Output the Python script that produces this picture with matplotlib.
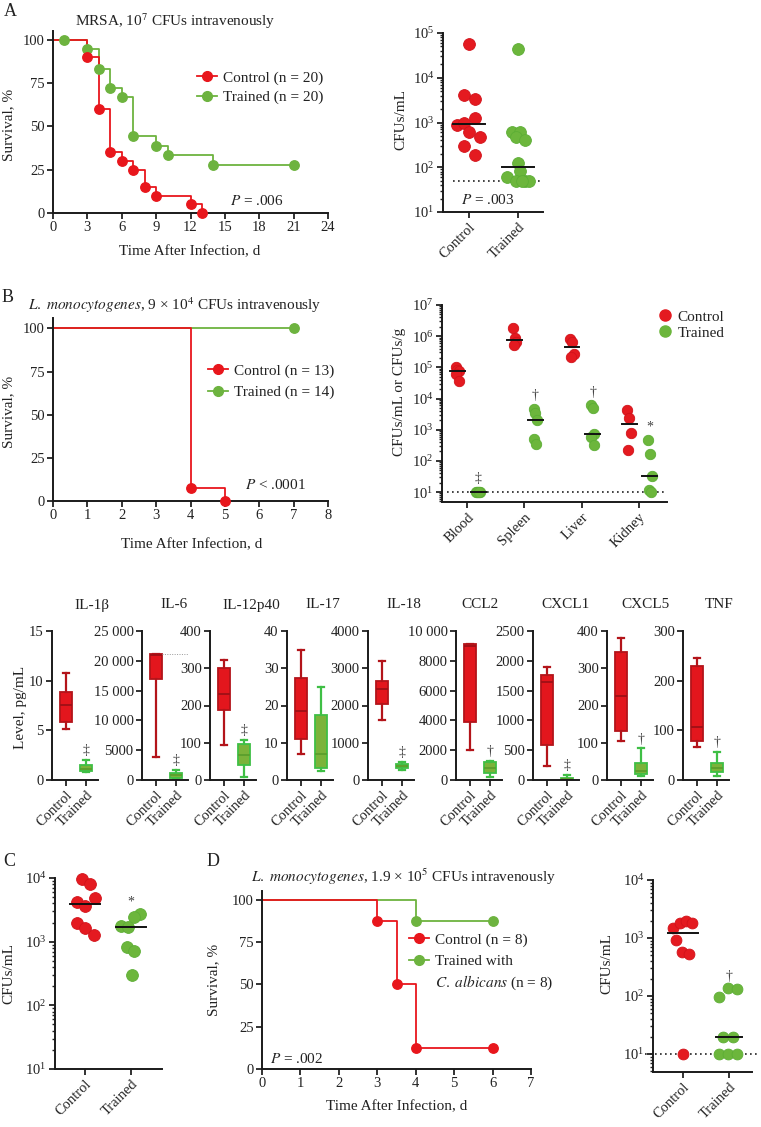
import numpy as np
import matplotlib
matplotlib.use('Agg')
import matplotlib.pyplot as plt
from matplotlib.lines import Line2D
from matplotlib.ticker import LogLocator, NullFormatter, FuncFormatter

plt.rcParams['font.family'] = ['Liberation Serif', 'DejaVu Serif']
plt.rcParams['mathtext.fontset'] = 'stix'
plt.rcParams['text.color'] = '#222222'
plt.rcParams['xtick.color'] = '#222222'
plt.rcParams['ytick.color'] = '#222222'

# ---------------- data ----------------
# A: MRSA survival (Kaplan-Meier)
a_ctrl_t = [0, 3, 4, 5, 6, 7, 8, 9, 12, 13]
a_ctrl_s = [100, 90, 60, 35, 30, 25, 15, 10, 5, 0]
a_trn_t = [0, 1, 3, 4, 5, 6, 7, 9, 10, 14, 21]
a_trn_s = [100, 100, 94.4, 83.3, 72.2, 66.7, 44.4, 38.9, 33.3, 27.8, 27.8]
# A: blood CFUs
a_cfu_ctrl = [56000, 4100, 3300, 1270, 900, 970, 605, 480, 305, 185]
a_cfu_trn = [44000, 605, 615, 470, 410, 125, 81, 61, 50, 50, 50, 50]
a_limit = 50

# B: L. monocytogenes survival
b_ctrl_t = [0, 4, 5]
b_ctrl_s = [100, 7.7, 0]
b_trn_t = [0, 7]
b_trn_s = [100, 100]
# B: organ CFUs
organs = ['Blood', 'Spleen', 'Liver', 'Kidney']
blood_ctrl = [1.0e5, 8.5e4, 7.8e4, 6.0e4, 3.7e4]
blood_trn = [10, 10, 10, 10, 10]
spleen_ctrl = [1.8e6, 8.9e5, 6.6e5, 5.2e5]
spleen_trn = [4.5e3, 3.5e3, 2.0e3, 5.0e2, 3.5e2]
liver_ctrl = [8.2e5, 6.6e5, 2.6e5, 2.2e5]
liver_trn = [6.0e3, 5.0e3, 7.4e2, 5.9e2, 3.3e2]
kidney_ctrl = [4.4e3, 2.3e3, 8.0e2, 2.3e2]
kidney_trn = [4.6e2, 1.7e2, 32, 12, 10]
b_limit = 10
organ_sig = ['‡', '†', '†', '*']

# cytokines: [whisker low, q1, median, q3, whisker high]
cyto_names = ['IL-1β', 'IL-6', 'IL-12p40', 'IL-17', 'IL-18', 'CCL2', 'CXCL1', 'CXCL5', 'TNF']
il1b_ctrl = [5.1, 5.8, 7.6, 8.9, 10.8]
il1b_trn = [0.8, 0.9, 1.1, 1.5, 2.0]
il6_ctrl = [3800, 17000, 21000, 21200, 21200]
il6_trn = [100, 400, 800, 1200, 1700]
il12_ctrl = [95, 187, 232, 300, 322]
il12_trn = [8, 40, 67, 97, 108]
il17_ctrl = [7, 11, 18.5, 27.3, 35]
il17_trn = [2.3, 3.3, 7, 17.5, 25]
il18_ctrl = [1600, 2050, 2450, 2650, 3200]
il18_trn = [260, 320, 380, 440, 480]
ccl2_ctrl = [2000, 3900, 9000, 9100, 9100]
ccl2_trn = [200, 500, 800, 1200, 1300]
cxcl1_ctrl = [230, 580, 1640, 1770, 1900]
cxcl1_trn = [0, 10, 20, 40, 80]
cxcl5_ctrl = [105, 132, 225, 343, 380]
cxcl5_trn = [10, 15, 25, 45, 85]
tnf_ctrl = [67, 78, 106, 230, 245]
tnf_trn = [8, 17, 25, 35, 57]
cyto_ctrl = [il1b_ctrl, il6_ctrl, il12_ctrl, il17_ctrl, il18_ctrl, ccl2_ctrl, cxcl1_ctrl, cxcl5_ctrl, tnf_ctrl]
cyto_trn = [il1b_trn, il6_trn, il12_trn, il17_trn, il18_trn, ccl2_trn, cxcl1_trn, cxcl5_trn, tnf_trn]
cyto_top = [15, 25000, 400, 40, 4000, 10000, 2500, 400, 300]
cyto_step = [5, 5000, 100, 10, 1000, 2000, 500, 100, 100]
cyto_sig = ['‡', '‡', '‡', '', '‡', '†', '‡', '†', '†']
il6_limit = 21200

# C: CFUs
c_ctrl = [9.5e3, 8.1e3, 4.9e3, 4.2e3, 3.6e3, 2.0e3, 1.65e3, 1.25e3]
c_trn = [2.75e3, 2.4e3, 1.75e3, 1.7e3, 8.1e2, 7.2e2, 3.0e2]

# D: survival after C. albicans training
d_ctrl_t = [0, 3, 3.5, 4, 6]
d_ctrl_s = [100, 87.5, 50, 12.5, 12.5]
d_trn_t = [0, 4, 6]
d_trn_s = [100, 87.5, 87.5]
# D: CFUs
d_cfu_ctrl = [1.5e3, 1.8e3, 2.0e3, 1.8e3, 925, 575, 520, 10]
d_cfu_trn = [98, 137, 130, 20, 20, 10, 10, 10]
d_limit = 10

# horizontal jitter of the dots (style only)
a_ctrl_dx = [0, -0.11, 0.115, 0.115, -0.24, -0.11, 0, 0.22, -0.11, 0.115]
a_trn_dx = [0.01, -0.12, 0.05, -0.05, 0.14, 0.01, 0.05, -0.22, -0.05, 0.14, 0.23, 0.09]
b_dx = [-0.03, 0.0, 0.03, -0.02, 0.02]
c_ctrl_dx = [-0.07, 0.11, 0.22, -0.18, 0, -0.18, 0, 0.2]
c_trn_dx = [0.2, 0.06, -0.22, -0.07, -0.09, 0.07, 0.01]
d_ctrl_dx = [-0.22, -0.07, 0.06, 0.2, -0.145, -0.015, 0.13, 0]
d_trn_dx = [-0.21, -0.015, 0.18, -0.12, 0.08, -0.21, -0.015, 0.18]

RED = '#e41a20'
RED_EDGE = '#d2121a'
GREEN = '#6cb63c'
GREEN_EDGE = '#5cae35'
RED_L = '#e8161c'
GREEN_L = '#6db33f'
SIG = '#444444'

W, H = 761, 1127
fig = plt.figure(figsize=(W / 100, H / 100), dpi=100)
fig.patch.set_facecolor('white')


def add_ax(l, t, r, b):
	ax = fig.add_axes([l / W, 1 - b / H, (r - l) / W, (b - t) / H])
	for s in ('top', 'right'):
		ax.spines[s].set_visible(False)
	for s in ('left', 'bottom'):
		ax.spines[s].set_linewidth(1.4)
		ax.spines[s].set_color('#1a1a1a')
	ax.tick_params(which='major', direction='out', length=4, width=1.3, labelsize=10.5, pad=2)
	ax.tick_params(which='minor', direction='out', length=2.2, width=1.0)
	ax.set_facecolor('none')
	return ax


def ftext(x, y, s, **kw):
	kw.setdefault('ha', 'center')
	kw.setdefault('va', 'center')
	kw.setdefault('fontsize', 11)
	fig.text(x / W, 1 - y / H, s, **kw)


def km(ax, t, s, color):
	ax.step(t, s, where='post', color=color, lw=1.3, zorder=2, clip_on=False)
	ax.plot(t[1:], s[1:], 'o', color=color, ms=6.8, zorder=3, clip_on=False)


def km_legend(ax, labels, x, y, spacing):
	hs = [Line2D([], [], color=RED_L, marker='o', ms=7, lw=1.3),
		  Line2D([], [], color=GREEN_L, marker='o', ms=7, lw=1.3)]
	ax.legend(hs, labels, loc='upper left', bbox_to_anchor=(x, y), frameon=False, fontsize=11,
			  borderpad=0, borderaxespad=0, handlelength=1.3, handletextpad=0.4, labelspacing=spacing)


def dots(ax, x0, vals, dx, color, edge, half, ms=8.5):
	ax.plot(x0 + np.asarray(dx), vals, 'o', ms=ms, color=color, mec=edge, mew=0.6, zorder=3, clip_on=False)
	ax.plot([x0 - half, x0 + half], [np.median(vals)] * 2, color='#111111', lw=1.4, zorder=4)


def logy(ax, lo, hi):
	ax.set_yscale('log')
	ax.set_ylim(lo, hi)
	ax.yaxis.set_major_locator(LogLocator(base=10, numticks=20))
	ax.yaxis.set_minor_locator(LogLocator(base=10, subs=np.arange(2, 10), numticks=100))
	ax.yaxis.set_minor_formatter(NullFormatter())


def limit_line(ax, val, x0, x1):
	ax.plot([x0, x1], [val, val], ls=(0, (1, 2)), color='#222222', lw=1.2, zorder=1,
			transform=ax.get_yaxis_transform(), clip_on=False)


def cat_ticks(ax, pos, labels):
	ax.set_xticks(pos)
	ax.set_xticklabels(labels, rotation=45, ha='right', rotation_mode='anchor', fontsize=10.5)


def sig(ax, x, y, s, off=3):
	ax.annotate(s, (x, y), xytext=(0, off), textcoords='offset points', ha='center', va='bottom',
				fontsize=10, color=SIG, annotation_clip=False)


# ---------------- A ----------------
ftext(10, 11, 'A', fontsize=13)
ftext(175, 21, 'MRSA, 10$^{7}$ CFUs intravenously')
axA = add_ax(53, 31, 328, 213)
km(axA, a_trn_t, a_trn_s, GREEN_L)
km(axA, a_ctrl_t, a_ctrl_s, RED_L)
axA.set_xlim(0, 24)
axA.set_ylim(0, 105)
axA.set_xticks(range(0, 25, 3))
axA.set_yticks([0, 25, 50, 75, 100])
km_legend(axA, ['Control (n = 20)', 'Trained (n = 20)'], 0.524, 0.78, 0.35)
axA.text(17.8, 7, '$P$ = .006', ha='center', va='center', fontsize=11)
ftext(9, 125, 'Survival, %', rotation=90)
ftext(190, 252, 'Time After Infection, d')

axAr = add_ax(443, 33, 543, 212)
logy(axAr, 10, 1e5)
axAr.set_xlim(-0.53, 1.51)
limit_line(axAr, a_limit, 0.1, 1.0)
dots(axAr, 0, a_cfu_ctrl, a_ctrl_dx, RED, RED_EDGE, 0.33)
dots(axAr, 1, a_cfu_trn, a_trn_dx, GREEN, GREEN_EDGE, 0.33)
cat_ticks(axAr, [0, 1], ['Control', 'Trained'])
axAr.text(0.45, 0.065, '$P$ = .003', transform=axAr.transAxes, ha='center', va='center', fontsize=11)
ftext(401, 120, 'CFUs/mL', rotation=90)

# ---------------- B ----------------
ftext(8, 298, 'B', fontsize=13)
ftext(175, 305, r'$\it{L.\ monocytogenes}$, 9 × 10$^{4}$ CFUs intravenously')
axB = add_ax(53, 318, 328, 501)
km(axB, b_trn_t, b_trn_s, GREEN_L)
km(axB, b_ctrl_t, b_ctrl_s, RED_L)
axB.set_xlim(0, 8)
axB.set_ylim(0, 106)
axB.set_xticks(range(0, 9))
axB.set_yticks([0, 25, 50, 75, 100])
km_legend(axB, ['Control (n = 13)', 'Trained (n = 14)'], 0.564, 0.75, 0.5)
axB.text(6.46, 9.2, '$P$ < .0001', ha='center', va='center', fontsize=11)
ftext(9, 412, 'Survival, %', rotation=90)
ftext(192, 545, 'Time After Infection, d')

axBr = add_ax(442, 305, 667, 502)
logy(axBr, 4.8, 1e7)
axBr.set_xlim(-0.44, 3.49)
limit_line(axBr, b_limit, 0.02, 1.0)
b_ctrl = [blood_ctrl, spleen_ctrl, liver_ctrl, kidney_ctrl]
b_trn = [blood_trn, spleen_trn, liver_trn, kidney_trn]
for i in range(4):
	xc, xt = i - 0.17, i + 0.19
	dots(axBr, xc, b_ctrl[i], b_dx[:len(b_ctrl[i])], RED, RED_EDGE, 0.13, ms=7.5)
	dots(axBr, xt, b_trn[i], b_dx[:len(b_trn[i])], GREEN, GREEN_EDGE, 0.13, ms=7.5)
	sig(axBr, xt, max(b_trn[i]), organ_sig[i], off=5)
cat_ticks(axBr, range(4), organs)
hs = [Line2D([], [], color=RED, marker='o', ms=8, ls='none'),
	  Line2D([], [], color=GREEN, marker='o', ms=8, ls='none')]
axBr.legend(hs, ['Control', 'Trained'], loc='upper left', bbox_to_anchor=(0.965, 0.975), frameon=False,
			fontsize=11, borderpad=0, borderaxespad=0, handlelength=0.8, handletextpad=0.4, labelspacing=0.15)
ftext(400, 392, 'CFUs/mL or CFUs/g', rotation=90)

# ---------------- cytokines ----------------
cyto_x = [52, 142, 210, 287, 368, 456, 533, 607, 683]
cyto_title_x = [92, 174, 251, 323, 404, 480, 565, 645, 719]


def fmt_level(v, pos):
	v = int(round(v))
	return f'{v:,}'.replace(',', ' ') if v >= 10000 else str(v)


def stats(v):
	return dict(whislo=v[0], q1=v[1], med=v[2], q3=v[3], whishi=v[4], fliers=[])


for i, name in enumerate(cyto_names):
	ax = add_ax(cyto_x[i], 631, cyto_x[i] + 46, 780)
	for pos, v, face, edge, med in [(0, cyto_ctrl[i], '#e3161d', '#b3141a', '#9e1016'),
									(1, cyto_trn[i], '#7bb33a', '#3fbf45', '#5a9f2c')]:
		ax.bxp([stats(v)], positions=[pos], widths=0.6, patch_artist=True, showfliers=False,
			   manage_ticks=False, capwidths=0.3,
			   boxprops=dict(facecolor=face, edgecolor=edge, lw=1.3),
			   whiskerprops=dict(color=edge, lw=1.6),
			   capprops=dict(color=edge, lw=1.6),
			   medianprops=dict(color=med, lw=1.3))
	if cyto_sig[i]:
		sig(ax, 1, cyto_trn[i][4], cyto_sig[i], off=2)
	if name == 'IL-6':
		ax.plot([0.3, 1.6], [il6_limit, il6_limit], ls=(0, (1, 1.5)), color='#999999', lw=0.7)
	ax.set_xlim(-0.7, 1.6)
	ax.set_ylim(0, cyto_top[i])
	ax.set_yticks(np.arange(0, cyto_top[i] + 1, cyto_step[i]))
	ax.yaxis.set_major_formatter(FuncFormatter(fmt_level))
	cat_ticks(ax, [0, 1], ['Control', 'Trained'])
	ftext(cyto_title_x[i], 605, name)
ftext(21, 707, 'Level, pg/mL', rotation=90)

# ---------------- C ----------------
ftext(9, 861, 'C', fontsize=13)
axC = add_ax(55, 878, 162, 1069)
logy(axC, 10, 1e4)
axC.set_xlim(-0.65, 1.67)
dots(axC, 0, c_ctrl, c_ctrl_dx, RED, RED_EDGE, 0.33)
dots(axC, 1, c_trn, c_trn_dx, GREEN, GREEN_EDGE, 0.33)
sig(axC, 1, max(c_trn), '*', off=4)
cat_ticks(axC, [0, 1], ['Control', 'Trained'])
ftext(9, 974, 'CFUs/mL', rotation=90)

# ---------------- D ----------------
ftext(213, 862, 'D', fontsize=13)
ftext(403, 877, r'$\it{L.\ monocytogenes}$, 1.9 × 10$^{5}$ CFUs intravenously')
axD = add_ax(262, 891, 531, 1069)
km(axD, d_trn_t, d_trn_s, GREEN_L)
km(axD, d_ctrl_t, d_ctrl_s, RED_L)
axD.set_xlim(0, 7)
axD.set_ylim(0, 105.3)
axD.set_xticks(range(0, 8))
axD.set_yticks([0, 25, 50, 75, 100])
km_legend(axD, ['Control (n = 8)', 'Trained with'], 0.546, 0.765, 0.5)
axD.text(0.643, 0.485, r'$\it{C.\ albicans}$ (n = 8)', transform=axD.transAxes,
		 ha='left', va='center', fontsize=11)
axD.text(0.21, 5.9, '$P$ = .002', ha='left', va='center', fontsize=11)
ftext(214, 980, 'Survival, %', rotation=90)
ftext(397, 1107, 'Time After Infection, d')

axDr = add_ax(653, 880, 752, 1072)
logy(axDr, 4.9, 1e4)
axDr.set_xlim(-0.65, 1.5)
limit_line(axDr, d_limit, -0.08, 1.06)
dots(axDr, 0, d_cfu_ctrl, d_ctrl_dx, RED, RED_EDGE, 0.33, ms=7.8)
dots(axDr, 1, d_cfu_trn, d_trn_dx, GREEN, GREEN_EDGE, 0.28, ms=7.8)
sig(axDr, 1, max(d_cfu_trn), '†', off=4)
cat_ticks(axDr, [0, 1], ['Control', 'Trained'])
ftext(607, 963, 'CFUs/mL', rotation=90)

fig.savefig('out.png', dpi=100, facecolor='white')
